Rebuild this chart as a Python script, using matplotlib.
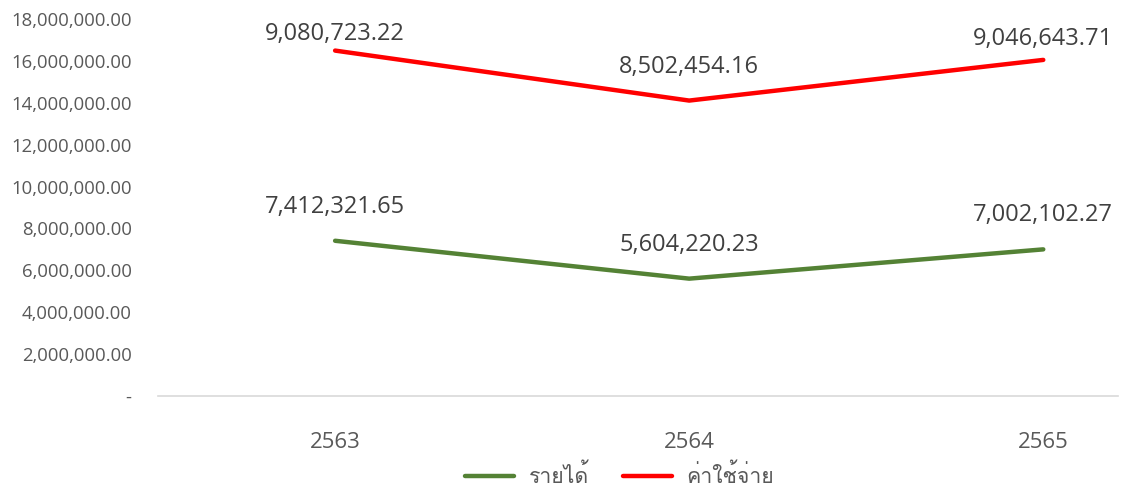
import matplotlib
matplotlib.use("Agg")
import matplotlib.pyplot as plt
from matplotlib import font_manager
from matplotlib.ft2font import FT2Font
from matplotlib.ticker import FuncFormatter

years = ["2563", "2564", "2565"]
income = [7412321.65, 5604220.23, 7002102.27]
expense = [9080723.22, 8502454.16, 9046643.71]
series_names = ["รายได้", "ค่าใช้จ่าย"]

# find a font with Thai glyphs
thai_font = None
for f in font_manager.fontManager.ttflist:
    try:
        cm = FT2Font(f.fname).get_charmap()
        if 0x0E23 in cm and 0x0E49 in cm:
            thai_font = f.name
            break
    except Exception:
        pass
fams = ([thai_font] if thai_font else []) + ["DejaVu Sans"]
base = ["Open Sans", "DejaVu Sans"]
plt.rcParams["font.family"] = base

fig = plt.figure(figsize=(11.21, 4.88), dpi=100)
ax = fig.add_axes([0.141, 0.1885, 0.856, 0.7725])

x = list(range(len(years)))
stack_top = [a + b for a, b in zip(income, expense)]

green = "#548235"
red = "#FF0000"
ax.plot(x, income, color=green, lw=3.2, solid_capstyle="round", label=series_names[0])
ax.plot(x, stack_top, color=red, lw=3.2, solid_capstyle="round", label=series_names[1])

label_offsets_inc = [24, 24, 25]
label_offsets_exp = [12, 24, 15]
for i in x:
    ax.annotate(f"{income[i]:,.2f}", (i, income[i]), xytext=(0, label_offsets_inc[i]),
                textcoords="offset points", ha="center", va="center",
                fontsize=17, color="#404040")
    ax.annotate(f"{expense[i]:,.2f}", (i, stack_top[i]), xytext=(0, label_offsets_exp[i]),
                textcoords="offset points", ha="center", va="center",
                fontsize=17, color="#404040")

ax.set_ylim(0, 18000000)
ax.set_yticks(range(0, 18000001, 2000000))
ax.yaxis.set_major_formatter(FuncFormatter(lambda v, p: "-" if v == 0 else f"{v:,.2f}"))
ax.set_xlim(-0.5, 2.21)
ax.set_xticks(x)
ax.set_xticklabels(years)

for s in ["top", "right", "left"]:
    ax.spines[s].set_visible(False)
ax.spines["bottom"].set_color("#D9D9D9")
ax.spines["bottom"].set_linewidth(1.2)
ax.tick_params(axis="y", length=0, labelsize=13.3, labelcolor="#595959", pad=19)
ax.tick_params(axis="x", length=0, labelsize=16, labelcolor="#595959", pad=26)

leg = ax.legend(loc="center", bbox_to_anchor=(0.481, -0.21), ncol=2, frameon=False,
                prop={"family": fams, "size": 15.3}, handlelength=2.3, columnspacing=1.6,
                handletextpad=0.7)
for t in leg.get_texts():
    t.set_color("#595959")

fig.savefig("out.png", dpi=100)
